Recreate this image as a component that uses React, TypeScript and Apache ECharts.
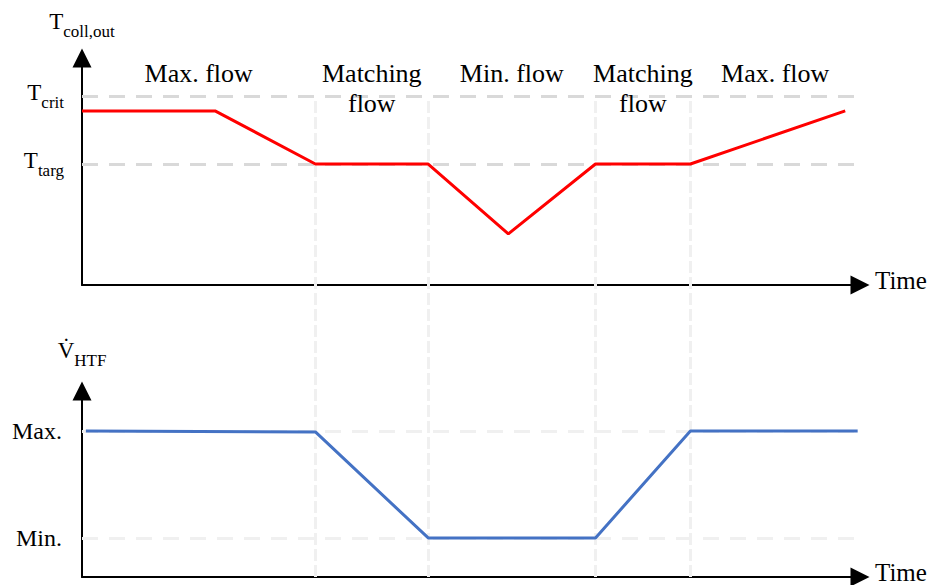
import React, { useEffect, useRef } from 'react';
import * as echarts from 'echarts';

const FONT = '"Liberation Serif", "Times New Roman", Times, serif';

// Operating phases along the time axis (0–100)
const phaseBounds = [30, 44.5, 66, 78.2];
const phaseNames = ['Max. flow', 'Matching\nflow', 'Min. flow', 'Matching\nflow', 'Max. flow'];
const phaseLabelLevel = 100;

// Collector outlet temperature (relative scale 0–100)
const tempTime = [0, 17.1, 30, 44.5, 54.8, 66, 78.2, 98.1];
const tempValue = [76.7, 76.7, 53.3, 53.3, 22.5, 53.3, 53.3, 76.7];
const tCrit = 83.3;
const tTarg = 53.3;

// HTF volume flow (relative scale 0–100)
const flowTime = [0.5, 30, 44.5, 66, 78.2, 99.7];
const flowValue = [78.5, 78, 21, 21, 78.5, 78.5];
const flowMax = 78.5;
const flowMin = 21;

const BLACK = '#000000';

const richSub = {
  m: { fontSize: 23, fontFamily: FONT, color: BLACK, verticalAlign: 'bottom', padding: [0, 0, 7, 0] },
  s: { fontSize: 17, fontFamily: FONT, color: BLACK, verticalAlign: 'bottom' },
};

const sub = (main: string, s: string) => `{m|${main}}{s|${s}}`;

const arrowAxisLine = {
  show: true,
  symbol: ['none', 'triangle'],
  symbolSize: [19, 19],
  lineStyle: { color: BLACK, width: 2 },
};

const timeName = {
  name: 'Time',
  nameLocation: 'end' as const,
  nameGap: 15,
  nameTextStyle: {
    fontSize: 25,
    fontFamily: FONT,
    color: BLACK,
    verticalAlign: 'bottom',
    lineHeight: 10,
  },
};

function buildOption() {
  const edges = [0, ...phaseBounds, 100];
  const phaseCenters = phaseNames.map((_, i) => (edges[i] + edges[i + 1]) / 2);

  const hiddenAxis = {
    show: false,
    axisLine: { show: false },
    axisTick: { show: false },
    axisLabel: { show: false },
    splitLine: { show: false },
  };

  return {
    animation: false,
    backgroundColor: '#ffffff',
    grid: [
      { left: 82, right: 71, top: 58, height: 227 },
      { left: 82, right: 71, top: 391, height: 186 },
      { left: 82, right: 71, top: 97, height: 480 },
    ],
    xAxis: [
      {
        gridIndex: 0,
        type: 'value',
        min: 0,
        max: 100,
        axisLine: arrowAxisLine,
        axisTick: { show: false },
        axisLabel: { show: false },
        splitLine: { show: false },
        ...timeName,
      },
      {
        gridIndex: 1,
        type: 'value',
        min: 0,
        max: 100,
        axisLine: arrowAxisLine,
        axisTick: { show: false },
        axisLabel: { show: false },
        splitLine: { show: false },
        ...timeName,
      },
      { gridIndex: 2, type: 'value', min: 0, max: 100, ...hiddenAxis },
    ],
    yAxis: [
      {
        gridIndex: 0,
        type: 'value',
        min: 0,
        max: 100,
        axisLine: arrowAxisLine,
        axisTick: { show: false },
        axisLabel: { show: false },
        splitLine: { show: false },
        name: sub('T', 'coll,out'),
        nameLocation: 'end',
        nameGap: 18,
        nameTextStyle: { rich: richSub },
      },
      {
        gridIndex: 1,
        type: 'value',
        min: 0,
        max: 100,
        axisLine: arrowAxisLine,
        axisTick: { show: false },
        axisLabel: { show: false },
        splitLine: { show: false },
        name: sub('V\u0307', 'HTF'),
        nameLocation: 'end',
        nameGap: 22,
        nameTextStyle: { rich: richSub },
      },
      { gridIndex: 2, type: 'value', min: 0, max: 1, ...hiddenAxis },
    ],
    series: [
      // phase separators spanning both panels
      {
        type: 'line',
        xAxisIndex: 2,
        yAxisIndex: 2,
        data: [],
        silent: true,
        z: 1,
        markLine: {
          silent: true,
          symbol: ['none', 'none'],
          label: { show: false },
          lineStyle: { color: '#f0f0f0', width: 3, type: [12, 4] },
          data: phaseBounds.map((x) => ({ xAxis: x })),
        },
      },
      // temperature thresholds
      {
        type: 'line',
        xAxisIndex: 0,
        yAxisIndex: 0,
        data: [],
        silent: true,
        z: 2,
        markLine: {
          silent: true,
          symbol: ['none', 'none'],
          lineStyle: { color: '#d9d9d9', width: 3, type: [16, 11] },
          label: {
            show: true,
            position: 'start',
            distance: 18,
            rich: richSub,
          },
          data: [
            { yAxis: tCrit, label: { formatter: sub('T', 'crit') } },
            { yAxis: tTarg, label: { formatter: sub('T', 'targ') } },
          ],
        },
      },
      // flow limits
      {
        type: 'line',
        xAxisIndex: 1,
        yAxisIndex: 1,
        data: [],
        silent: true,
        z: 2,
        markLine: {
          silent: true,
          symbol: ['none', 'none'],
          lineStyle: { color: '#f0f0f0', width: 3, type: [16, 11] },
          label: {
            show: true,
            position: 'start',
            distance: 20,
            fontSize: 24,
            fontFamily: FONT,
            color: BLACK,
          },
          data: [
            { yAxis: flowMax, label: { formatter: 'Max.' } },
            { yAxis: flowMin, label: { formatter: 'Min.', padding: [6, 0, 0, 0] } },
          ],
        },
      },
      // phase names
      {
        type: 'scatter',
        xAxisIndex: 0,
        yAxisIndex: 0,
        symbolSize: 0,
        silent: true,
        clip: false,
        z: 10,
        data: phaseCenters.map((x, i) => ({ value: [x, phaseLabelLevel], name: phaseNames[i] })),
        label: {
          show: true,
          position: 'bottom',
          distance: 0,
          formatter: (p: any) => p.name,
          fontSize: 26,
          lineHeight: 30,
          fontFamily: FONT,
          color: BLACK,
          opacity: 1,
          textBorderWidth: 0,
          align: 'center',
        },
      },
      // outlet temperature
      {
        type: 'line',
        xAxisIndex: 0,
        yAxisIndex: 0,
        data: tempTime.map((t, i) => [t, tempValue[i]]),
        symbol: 'none',
        z: 5,
        lineStyle: { color: '#ff0000', width: 3 },
      },
      // volume flow
      {
        type: 'line',
        xAxisIndex: 1,
        yAxisIndex: 1,
        data: flowTime.map((t, i) => [t, flowValue[i]]),
        symbol: 'none',
        z: 5,
        lineStyle: { color: '#4472c4', width: 3 },
      },
    ],
  };
}

export default function App() {
  const ref = useRef<HTMLDivElement>(null);

  useEffect(() => {
    document.body.style.margin = '0';
    if (!ref.current) return;
    const chart = echarts.init(ref.current, undefined, { renderer: 'svg' });
    chart.setOption(buildOption() as any);
    return () => chart.dispose();
  }, []);

  return <div ref={ref} style={{ width: 931, height: 585 }} />;
}
